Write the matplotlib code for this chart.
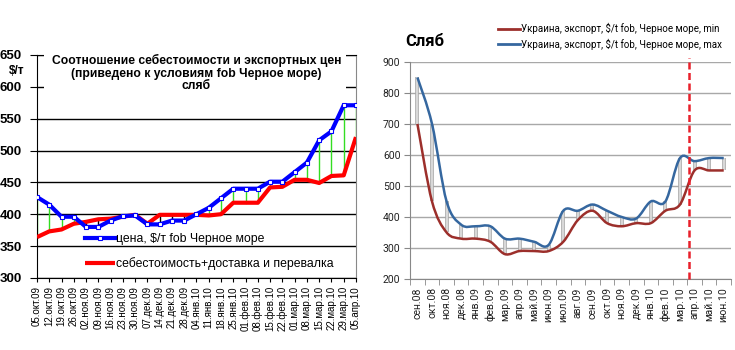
import numpy as np
import matplotlib.pyplot as plt
from matplotlib.path import Path
from matplotlib.patches import PathPatch, Rectangle
from matplotlib.lines import Line2D

# Left chart: weekly price vs cost
weeks = ["05.окт.09", "12.окт.09", "19.окт.09", "26.окт.09", "02.ноя.09", "09.ноя.09",
         "16.ноя.09", "23.ноя.09", "30.ноя.09", "07.дек.09", "14.дек.09", "21.дек.09",
         "28.дек.09", "04.янв.10", "11.янв.10", "18.янв.10", "25.янв.10", "01.фев.10",
         "08.фев.10", "15.фев.10", "22.фев.10", "01.мар.10", "08.мар.10", "15.мар.10",
         "22.мар.10", "29.мар.10", "05.апр.10"]
price = [427, 415, 396, 396, 380, 380, 390, 397, 398, 384, 384, 390, 390, 400,
         410, 425, 440, 440, 440, 451, 451, 466, 481, 516, 530, 571, 571]
cost = [364, 373, 376, 385, 388, 392, 393, 396, 399, 385, 399, 399, 399, 399,
        398, 400, 418, 418, 418, 442, 443, 454, 454, 449, 460, 461, 521]

# Right chart: monthly slab export range
months = ["сен.08", "окт.08", "ноя.08", "дек.08", "янв.09", "фев.09", "мар.09", "апр.09",
          "май.09", "июн.09", "июл.09", "авг.09", "сен.09", "окт.09", "ноя.09", "дек.09",
          "янв.10", "фев.10", "мар.10", "апр.10", "май.10", "июн.10"]
slab_min = [700, 450, 350, 330, 330, 320, 280, 290, 290, 290, 320, 390, 420, 380,
            370, 380, 380, 420, 440, 550, 550, 550]
slab_max = [850, 700, 450, 375, 370, 370, 330, 330, 320, 310, 420, 420, 440, 420,
            400, 395, 450, 450, 590, 580, 590, 590]
forecast_from = 18.6

ARIAL = ['Liberation Sans', 'DejaVu Sans']
CALIBRI = ['Roboto', 'DejaVu Sans']


def smooth_path(x, y):
    # Excel-style smoothed line as cubic bezier segments
    pts = np.column_stack([x, y]).astype(float)
    n = len(pts)
    verts = [pts[0]]
    codes = [Path.MOVETO]
    for i in range(n - 1):
        p0 = pts[i - 1] if i > 0 else pts[i]
        p1, p2 = pts[i], pts[i + 1]
        p3 = pts[i + 2] if i + 2 < n else pts[i + 1]
        verts += [p1 + (p2 - p0) / 6, p2 - (p3 - p1) / 6, p2]
        codes += [Path.CURVE4] * 3
    return Path(verts, codes)


fig = plt.figure(figsize=(7.35, 3.5), dpi=100)

# ---------------- left chart ----------------
ax1 = fig.add_axes([0.0503, 0.206, 0.434, 0.637])
x1 = np.arange(len(weeks))
p = np.array(price)
c = np.array(cost)
for xi, pi, ci in zip(x1, p, c):
    col = '#33dd22' if pi >= ci else 'black'
    ax1.plot([xi, xi], [ci, pi], color=col, lw=1, zorder=2)
ax1.plot(x1, c, color='#ff0000', lw=3, zorder=3, solid_capstyle='butt',
         label='себестоимость+доставка и перевалка')
ax1.plot(x1, p, color='#0000ff', lw=3, zorder=4, marker='s', ms=3,
         mfc='white', mec='#0000ff', mew=0.8, label='цена, $/т fob Черное море')

ax1.set_xlim(0, len(weeks) - 1)
ax1.set_ylim(300, 650)
ax1.set_yticks(range(300, 651, 50))
ax1.yaxis.grid(True, color='black', lw=1, zorder=0.5)
ax1.set_axisbelow(True)
ax1.set_xticks(x1)
ax1.set_xticklabels(weeks, rotation=90, fontsize=7, family=ARIAL)
for lab in ax1.get_yticklabels():
    lab.set_fontweight('bold')
    lab.set_fontsize(9.5)
    lab.set_family(ARIAL)
ax1.tick_params(axis='y', direction='out', length=5, pad=6)
ax1.tick_params(axis='x', direction='out', length=3, pad=3)
for s in ['left', 'bottom', 'top']:
    ax1.spines[s].set_color('black')
ax1.spines['right'].set_color('#888888')

# white box behind the title hides the top frame and the 600 gridline
ax1.add_artist(Rectangle((0.022, 0.83), 0.948, 0.19, transform=ax1.transAxes,
                         facecolor='white', edgecolor='none', zorder=6, clip_on=False))
ax1.text(0.5, 1.003, 'Соотношение себестоимости и экспортных цен\n'
         '(приведено к условиям fob Черное море)\nсляб',
         transform=ax1.transAxes, ha='center', va='top', fontsize=8.7,
         fontweight='bold', family=ARIAL, linespacing=1.05, zorder=7)
fig.text(25 / 735, 1 - 71 / 350, '$/т', ha='right', va='center', fontsize=8.5,
         fontweight='bold', family=ARIAL)

h, l = ax1.get_legend_handles_labels()
ax1.legend(h[::-1], l[::-1], loc='upper left', bbox_to_anchor=(0.15, 0.20),
           frameon=False, prop={'family': ARIAL, 'size': 8.8},
           handlelength=2.5, handletextpad=0.05, labelspacing=0.95,
           borderpad=0, borderaxespad=0)

# ---------------- right chart ----------------
ax2 = fig.add_axes([0.558, 0.203, 0.4366, 0.62])
x2 = np.arange(len(months))
ax2.vlines(x2, slab_min, slab_max, color='#a8a8a8', lw=2.6, zorder=2)
ax2.vlines(x2, slab_min, slab_max, color='#dedede', lw=1.3, zorder=2.1)
ax2.add_patch(PathPatch(smooth_path(x2, slab_min), facecolor='none',
                        edgecolor='#9c2f2b', lw=1.8, zorder=3))
ax2.add_patch(PathPatch(smooth_path(x2, slab_max), facecolor='none',
                        edgecolor='#35679f', lw=1.8, zorder=4))
ax2.axvline(forecast_from, color='#e8202a', lw=1.8, dashes=(2.8, 1.4), zorder=5,
            ymin=0, ymax=1.02, clip_on=False)

ax2.set_xlim(-0.5, len(months) - 0.5)
ax2.set_ylim(200, 900)
ax2.set_yticks(range(200, 901, 100))
ax2.yaxis.grid(True, color='#a8a8a8', lw=1)
ax2.set_axisbelow(True)
ax2.set_xticks(x2)
ax2.set_xticklabels(months, rotation=90, fontsize=7.5, family=CALIBRI, color='#222222')
ax2.set_xticks(np.arange(-0.5, len(months)), minor=True)
ax2.tick_params(axis='x', which='major', length=0, pad=6)
ax2.tick_params(axis='x', which='minor', length=4, direction='out', color='#888888')
ax2.tick_params(axis='y', length=4, direction='out', color='#888888', pad=3,
                labelsize=7.5, labelcolor='#222222')
for lab in ax2.get_yticklabels():
    lab.set_family(CALIBRI)
for s in ['top', 'right']:
    ax2.spines[s].set_visible(False)
for s in ['left', 'bottom']:
    ax2.spines[s].set_color('#888888')

fig.text(405 / 735, 1 - 42 / 350, 'Сляб', ha='left', va='center', fontsize=12,
         fontweight='bold', family=CALIBRI)
handles = [Line2D([], [], color='#9c2f2b', lw=2),
           Line2D([], [], color='#35679f', lw=2)]
labels = ['Украина, экспорт, $/t fob, Черное море, min',
          'Украина, экспорт, $/t fob, Черное море, max']
fig.legend(handles, labels, loc='upper left', bbox_to_anchor=(498 / 735, 1 - 23 / 350),
           frameon=False, prop={'family': CALIBRI, 'size': 7.0},
           handlelength=2.3, handletextpad=0.1, labelspacing=0.45,
           borderpad=0, borderaxespad=0)

fig.savefig('out.png', dpi=100)
